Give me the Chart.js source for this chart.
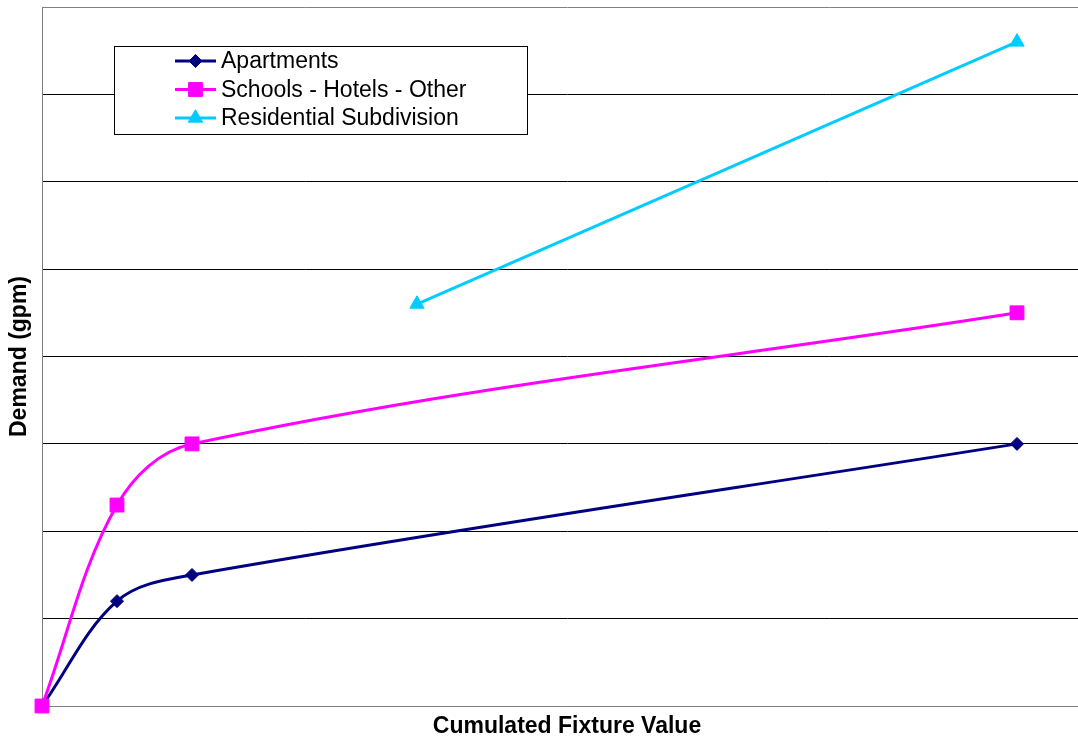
<!DOCTYPE html>
<html>
<head>
<meta charset="utf-8">
<script src="https://cdn.jsdelivr.net/npm/chart.js@4/dist/chart.umd.min.js"></script>
<style>
  html, body { margin: 0; padding: 0; background: #fff; overflow: hidden; width: 1078px; height: 740px; }
  canvas { display: block; }
</style>
</head>
<body>
<canvas id="c" width="1092" height="740"></canvas>
<script>
// ---- Data ----
const seriesNames = ['Apartments', 'Schools - Hotels - Other', 'Residential Subdivision'];
const apartmentsX = [0, 1, 2, 13];
const apartmentsY = [0, 1.2, 1.5, 3.0];
const schoolsX = [0, 1, 2, 13];
const schoolsY = [0, 2.3, 3.0, 4.5];
const residentialX = [5, 13];
const residentialY = [4.6, 7.6];
const xTitle = 'Cumulated Fixture Value';
const yTitle = 'Demand (gpm)';

const FONT = "'Liberation Sans', Arial, Helvetica, sans-serif";
const toPts = (xs, ys) => xs.map((x, i) => ({ x: x, y: ys[i] }));

const colors = ['#000080', '#FF00FF', '#00CCFF'];
const styles = [
  { pointStyle: 'rectRot', radius: 6.5 },
  { pointStyle: 'rect', radius: 9.8 },
  { pointStyle: 'triangle', radius: 8.3 }
];

const datasets = [
  { label: seriesNames[0], data: toPts(apartmentsX, apartmentsY), order: 1 },
  { label: seriesNames[1], data: toPts(schoolsX, schoolsY), order: 0 },
  { label: seriesNames[2], data: toPts(residentialX, residentialY), order: 2 }
].map((d, i) => Object.assign(d, {
  showLine: true,
  borderColor: colors[i],
  backgroundColor: colors[i],
  borderWidth: 3,
  tension: 0.35,
  pointStyle: styles[i].pointStyle,
  pointRadius: styles[i].radius,
  pointHoverRadius: styles[i].radius,
  pointBorderWidth: 1,
  pointBorderColor: colors[i],
  pointBackgroundColor: colors[i],
  clip: false
}));

// custom in-plot legend
const boxLegend = {
  id: 'boxLegend',
  afterDraw(chart) {
    const ctx = chart.ctx;
    const bx = 114.5, by = 46.5, bw = 413, bh = 88;
    ctx.save();
    ctx.fillStyle = '#fff';
    ctx.fillRect(bx, by, bw, bh);
    ctx.strokeStyle = '#000';
    ctx.lineWidth = 1;
    ctx.strokeRect(bx, by, bw, bh);
    const rowsY = [61, 89.5, 118];
    chart.data.datasets.forEach((ds, i) => {
      const y = rowsY[i];
      ctx.strokeStyle = ds.borderColor;
      ctx.lineWidth = 3;
      ctx.beginPath();
      ctx.moveTo(175, y);
      ctx.lineTo(216, y);
      ctx.stroke();
      ctx.fillStyle = ds.pointBackgroundColor;
      ctx.strokeStyle = ds.pointBorderColor;
      ctx.lineWidth = 1;
      Chart.helpers.drawPoint(ctx, { pointStyle: ds.pointStyle, radius: ds.pointRadius, rotation: 0, borderWidth: 1 }, 195.5, y);
      ctx.fillStyle = '#000';
      ctx.font = '23px ' + FONT;
      ctx.textBaseline = 'middle';
      ctx.textAlign = 'left';
      ctx.fillText(ds.label, 221, y + 1);
    });
    ctx.restore();
  }
};

new Chart(document.getElementById('c'), {
  type: 'scatter',
  data: { datasets: datasets },
  plugins: [boxLegend],
  options: {
    responsive: false,
    animation: false,
    events: [],
    layout: { autoPadding: false, padding: { top: 7, right: 0, bottom: 0, left: 0 } },
    plugins: { legend: { display: false }, tooltip: { enabled: false } },
    scales: {
      x: {
        type: 'linear', min: 0, max: 14,
        ticks: { display: false },
        grid: { display: false, drawTicks: false },
        border: { display: true, color: '#808080', width: 1 },
        title: { display: true, text: xTitle, color: '#000',
                 font: { family: FONT, size: 23, weight: 'bold', lineHeight: 1.2 },
                 padding: { top: 0, bottom: 0 } },
        afterFit(s) { s.height = 34; }
      },
      y: {
        type: 'linear', min: 0, max: 8,
        ticks: { display: false, stepSize: 1 },
        grid: {
          drawTicks: false,
          lineWidth: 1,
          color: (c) => (c.tick && (c.tick.value === 8 || c.tick.value === 0)) ? '#808080' : '#000000'
        },
        border: { display: true, color: '#808080', width: 1 },
        title: { display: true, text: yTitle, color: '#000',
                 font: { family: FONT, size: 23, weight: 'bold', lineHeight: 1.2 },
                 padding: { top: 6, bottom: 0 } },
        afterFit(s) { s.width = 42; }
      }
    }
  }
});
</script>
</body>
</html>
